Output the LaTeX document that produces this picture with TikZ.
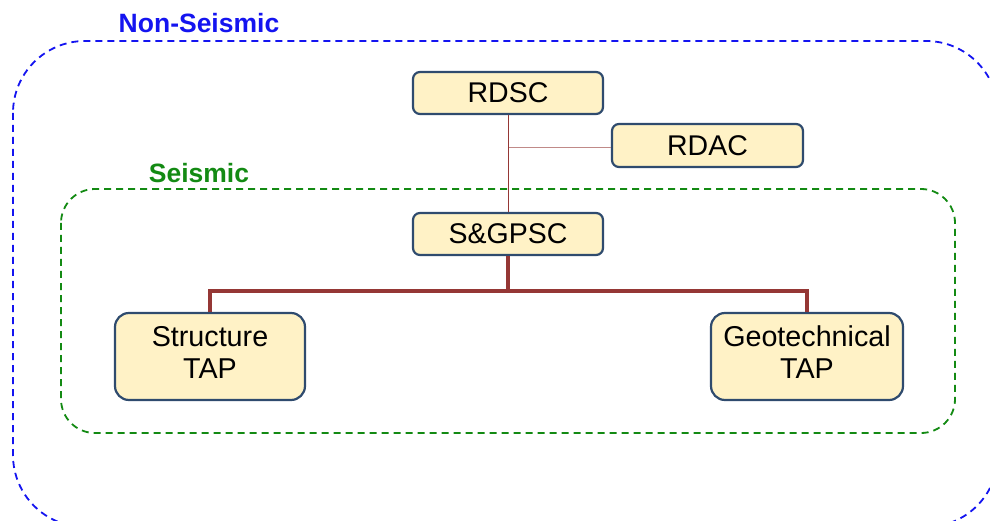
\documentclass[tikz,border=0pt]{standalone}
\usepackage{fontspec}
\setmainfont{Liberation Sans}
\definecolor{boxfill}{HTML}{FFF2C6}
\definecolor{boxline}{HTML}{2F4B6E}
\definecolor{conn}{HTML}{953735}
\definecolor{connlight}{HTML}{C08A88}
\definecolor{nsblue}{HTML}{1414F0}
\definecolor{sgreen}{HTML}{138A13}
\begin{document}
\begin{tikzpicture}[x=1pt,y=-1pt,
  orgbox/.style={draw=boxline,line width=2.2pt,fill=boxfill,rounded corners=7pt,
    inner sep=0pt,align=center,font=\fontsize{28.5}{32}\selectfont},
  bigbox/.style={orgbox,rounded corners=14pt,font=\fontsize{28.7}{32}\selectfont},
  zone/.style={dash pattern=on 7pt off 5pt,line width=1.8pt},
  thin/.style={draw=conn,line width=1pt},
  thick/.style={draw=conn,line width=3.5pt}]
\useasboundingbox (0,0) rectangle (990,521);
\clip (0,0) rectangle (990,521);
% zones
\draw[zone,draw=nsblue,rounded corners=72pt] (13,41) rectangle (998,527);
\draw[zone,draw=sgreen,rounded corners=34pt] (61,189) rectangle (955,433);
\node[font=\bfseries\fontsize{26.5}{30}\selectfont,text=nsblue] (lns) at (199,23) {Non-Seismic};
\node[font=\bfseries\fontsize{26.5}{30}\selectfont,text=sgreen] (ls) at (199,173) {Seismic};
% boxes
\node[orgbox,minimum width=190pt,minimum height=42pt] (rdsc) at (508,93) {RDSC};
\node[orgbox,minimum width=191pt,minimum height=43pt] (rdac) at (707.5,145.5) {RDAC};
\node[orgbox,minimum width=190pt,minimum height=42pt] (sgpsc) at (508,234) {S\&GPSC};
\node[bigbox,minimum width=190pt,minimum height=87pt] (struct) at (210,356.5) {\raisebox{3pt}{\begin{tabular}{@{}c@{}}Structure\\TAP\end{tabular}}};
\node[bigbox,minimum width=192pt,minimum height=87pt] (geo) at (807,356.5) {\raisebox{3pt}{\begin{tabular}{@{}c@{}}Geotechnical\\TAP\end{tabular}}};
% connectors
\coordinate (j) at (508,148);
\coordinate (bus) at (508,291);
\draw[draw=connlight,line width=1pt] (j) -- (j -| rdac.west);
\draw[thin] (rdsc.south) -- (sgpsc.north);
\draw[thick] (sgpsc.south) -- (bus);
\draw[thick] (bus) -| (struct.north);
\draw[thick] (bus) -| (geo.north);
\end{tikzpicture}
\end{document}
